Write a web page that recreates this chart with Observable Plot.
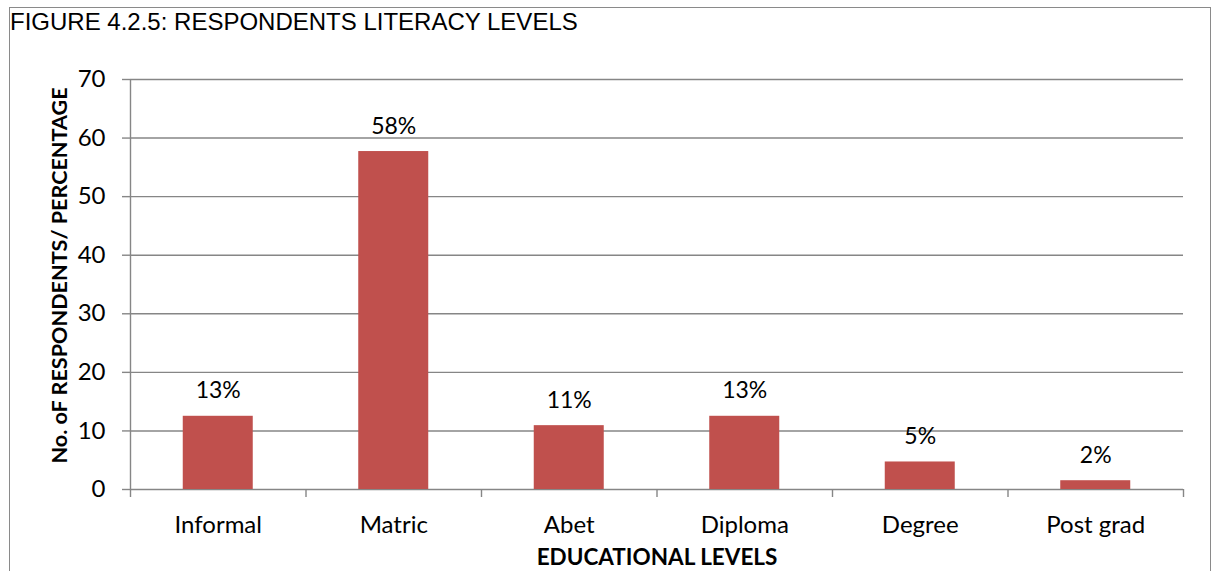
<!DOCTYPE html>
<html>
<head>
<meta charset="utf-8">
<script src="https://cdn.jsdelivr.net/npm/d3@7"></script>
<script src="https://cdn.jsdelivr.net/npm/@observablehq/plot@0.6"></script>
<style>
  html, body { margin: 0; padding: 0; background: #fff; }
  body { width: 1216px; height: 571px; overflow: hidden; position: relative; }
  #frame { position: absolute; left: 9px; top: 7px; width: 1202px; height: 620px; border: 1px solid #8a8a8a; box-sizing: border-box; }
  #title { position: relative; height: 40px; padding-left: 10px; padding-top: 2px; box-sizing: border-box;
           font-family: Arial, "Liberation Sans", sans-serif; font-size: 24px; line-height: 40px; color: #000; white-space: nowrap; }
  #chart { position: absolute; left: 0; top: 40px; }
</style>
</head>
<body>
<div id="frame"></div>
<div id="title">FIGURE 4.2.5: RESPONDENTS LITERACY LEVELS</div>
<div id="chart"></div>
<script>
const categories = ["Informal", "Matric", "Abet", "Diploma", "Degree", "Post grad"];
const values = [12.5, 57.7, 10.9, 12.5, 4.7, 1.5];
const valueLabels = ["13%", "58%", "11%", "13%", "5%", "2%"];
const yTicks = [0, 10, 20, 30, 40, 50, 60, 70];
const yLabel = "No. oF RESPONDENTS/ PERCENTAGE";
const xLabel = "EDUCATIONAL LEVELS";

const rows = categories.map((c, i) => ({i, category: c, value: values[i], label: valueLabels[i]}));
const boundaries = d3.range(categories.length + 1);
const centers = categories.map((c, i) => i + 0.5);

const grid = "#868686";
const barColor = "#C0504D";

const chart = Plot.plot({
  width: 1216,
  height: 531,
  marginTop: 39,
  marginBottom: 82,
  marginLeft: 130,
  marginRight: 33,
  style: {fontFamily: "Lato, Calibri, sans-serif", fontSize: "24px", color: "#000", background: "transparent", overflow: "visible"},
  x: {type: "linear", domain: [0, categories.length], axis: null},
  y: {domain: [0, 70], axis: null},
  marks: [
    Plot.ruleY(yTicks, {stroke: grid, strokeWidth: 1.4}),
    Plot.ruleX([0], {stroke: grid, strokeWidth: 1.4}),
    Plot.axisY({ticks: yTicks, tickSize: 8, tickPadding: 17, stroke: grid, strokeWidth: 1.4, fill: "#000", fontSize: 24, label: null}),
    Plot.axisX({ticks: boundaries, tickSize: 8, stroke: grid, strokeWidth: 1.4, tickFormat: () => "", label: null}),
    Plot.axisX({ticks: centers, tickSize: 0, tickPadding: 26, tickFormat: d => categories[Math.floor(d)], fill: "#000", fontSize: 24, label: null}),
    Plot.rectY(rows, {x1: "i", x2: d => d.i + 1, y: "value", fill: barColor, insetLeft: 52.75, insetRight: 52.75}),
    Plot.text(rows, {x: d => d.i + 0.5, y: "value", text: "label", lineAnchor: "bottom", dy: -18, fontSize: 23, fill: "#000"}),
    Plot.text([xLabel], {frameAnchor: "bottom", text: d => d, textAnchor: "middle", lineAnchor: "bottom", dy: 75, fontWeight: "bold", fontSize: 22.5, fill: "#000"}),
    Plot.text([yLabel], {frameAnchor: "left", text: d => d, textAnchor: "middle", lineAnchor: "middle", rotate: -90, dx: -70, dy: -9, fontWeight: "bold", fontSize: 21.6, fill: "#000"})
  ]
});
document.getElementById("chart").appendChild(chart);
</script>
</body>
</html>
